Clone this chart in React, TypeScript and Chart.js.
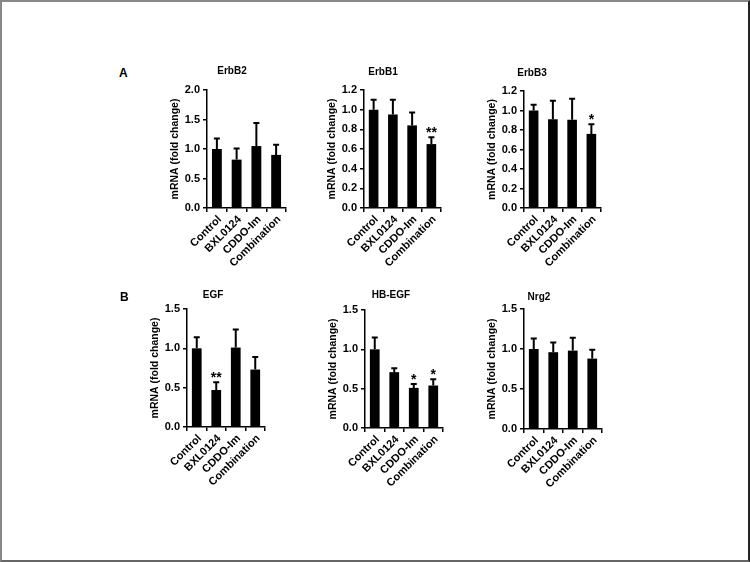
import React, { useEffect, useRef } from 'react';
import { Chart, registerables } from 'chart.js';

Chart.register(...registerables);

const categories = ['Control', 'BXL0124', 'CDDO-Im', 'Combination'];

const erbB2Mean = [1.0, 0.82, 1.05, 0.9];
const erbB2Err = [0.18, 0.19, 0.39, 0.17];
const erbB2Sig = ['', '', '', ''];

const erbB1Mean = [1.0, 0.95, 0.84, 0.65];
const erbB1Err = [0.1, 0.15, 0.13, 0.07];
const erbB1Sig = ['', '', '', '**'];

const erbB3Mean = [1.0, 0.91, 0.905, 0.76];
const erbB3Err = [0.06, 0.19, 0.215, 0.1];
const erbB3Sig = ['', '', '', '*'];

const egfMean = [1.0, 0.47, 1.01, 0.73];
const egfErr = [0.14, 0.1, 0.23, 0.16];
const egfSig = ['', '**', '', ''];

const hbegfMean = [1.0, 0.71, 0.51, 0.54];
const hbegfErr = [0.15, 0.05, 0.05, 0.08];
const hbegfSig = ['', '', '*', '*'];

const nrg2Mean = [1.0, 0.96, 0.98, 0.88];
const nrg2Err = [0.13, 0.12, 0.16, 0.11];
const nrg2Sig = ['', '', '', ''];

const yAxisTitle = 'mRNA (fold change)';

const FONT = '"Liberation Sans", Arial, Helvetica, sans-serif';

type PanelSpec = {
  title: string;
  mean: number[];
  err: number[];
  sig: string[];
  yMax: number;
  yStep: number;
  plotL: number;
  plotR: number;
  plotT: number;
  plotB: number;
  titleDx: number;
  titleDy: number;
};

const panels: PanelSpec[] = [
  { title: 'ErbB2', mean: erbB2Mean, err: erbB2Err, sig: erbB2Sig, yMax: 2.0, yStep: 0.5, plotL: 207, plotR: 286, plotT: 90, plotB: 208, titleDx: 25, titleDy: -19 },
  { title: 'ErbB1', mean: erbB1Mean, err: erbB1Err, sig: erbB1Sig, yMax: 1.2, yStep: 0.2, plotL: 364, plotR: 441, plotT: 90, plotB: 208, titleDx: 19, titleDy: -18 },
  { title: 'ErbB3', mean: erbB3Mean, err: erbB3Err, sig: erbB3Sig, yMax: 1.2, yStep: 0.2, plotL: 524, plotR: 601, plotT: 91, plotB: 208, titleDx: 8, titleDy: -18 },
  { title: 'EGF', mean: egfMean, err: egfErr, sig: egfSig, yMax: 1.5, yStep: 0.5, plotL: 187, plotR: 265, plotT: 309, plotB: 427, titleDx: 26, titleDy: -14 },
  { title: 'HB-EGF', mean: hbegfMean, err: hbegfErr, sig: hbegfSig, yMax: 1.5, yStep: 0.5, plotL: 365, plotR: 443, plotT: 310, plotB: 428, titleDx: 26, titleDy: -15 },
  { title: 'Nrg2', mean: nrg2Mean, err: nrg2Err, sig: nrg2Sig, yMax: 1.5, yStep: 0.5, plotL: 524, plotR: 602, plotT: 309, plotB: 429, titleDx: 15, titleDy: -12 },
];

const PAD_L = 5;
const Y_W = 45;
const PAD_T = 30;
const X_H = 72;
const PAD_R = 14;

function Panel({ p }: { p: PanelSpec }) {
  const ref = useRef<HTMLCanvasElement>(null);
  const left = p.plotL - Y_W - PAD_L;
  const top = p.plotT - PAD_T;
  const width = p.plotR + PAD_R - left;
  const height = p.plotB + X_H - top;

  useEffect(() => {
    if (!ref.current) return;
    const errorPlugin = {
      id: 'errAndTitle',
      afterDatasetsDraw(chart: any) {
        const ctx = chart.ctx;
        const meta = chart.getDatasetMeta(0);
        const ys = chart.scales.y;
        ctx.save();
        ctx.strokeStyle = '#000';
        ctx.fillStyle = '#000';
        ctx.lineWidth = 2;
        meta.data.forEach((bar: any, i: number) => {
          const x = bar.x;
          const yTop = ys.getPixelForValue(p.mean[i] + p.err[i]);
          ctx.beginPath();
          ctx.moveTo(x, bar.y);
          ctx.lineTo(x, yTop);
          ctx.moveTo(x - 3, yTop);
          ctx.lineTo(x + 3, yTop);
          ctx.stroke();
          if (p.sig[i]) {
            ctx.font = `bold 14px ${FONT}`;
            ctx.textAlign = 'center';
            ctx.textBaseline = 'alphabetic';
            ctx.fillText(p.sig[i], x, yTop);
          }
        });
        ctx.font = `bold 10px ${FONT}`;
        ctx.textAlign = 'center';
        ctx.textBaseline = 'middle';
        ctx.fillText(p.title, chart.chartArea.left + p.titleDx, chart.chartArea.top + p.titleDy);
        ctx.restore();
      },
    };

    const chart = new Chart(ref.current, {
      type: 'bar',
      data: {
        labels: categories,
        datasets: [
          {
            data: p.mean,
            backgroundColor: '#000',
            borderWidth: 0,
            barPercentage: 0.5,
            categoryPercentage: 1,
          },
        ],
      },
      options: {
        responsive: false,
        animation: false,
        events: [],
        layout: { padding: { left: PAD_L, top: PAD_T, right: PAD_R, bottom: 0 } },
        plugins: { legend: { display: false }, tooltip: { enabled: false } },
        scales: {
          x: {
            grid: { display: true, drawOnChartArea: false, offset: true, tickLength: 4, color: '#000', lineWidth: 1.5 },
            border: { display: true, color: '#000', width: 1.5 },
            ticks: {
              color: '#000',
              font: { family: FONT, size: 11, weight: 'bold' },
              minRotation: 45,
              maxRotation: 45,
              autoSkip: false,
              padding: 1,
              labelOffset: 3,
            },
            afterFit: (s: any) => {
              s.height = X_H;
            },
          },
          y: {
            min: 0,
            max: p.yMax,
            grid: { display: true, drawOnChartArea: false, tickLength: 4, color: '#000', lineWidth: 1.5 },
            border: { display: true, color: '#000', width: 1.5 },
            ticks: {
              stepSize: p.yStep,
              color: '#000',
              padding: 3,
              font: { family: FONT, size: 11, weight: 'bold' },
              callback: (v: any) => Number(v).toFixed(1),
            },
            title: {
              display: true,
              text: yAxisTitle,
              color: '#000',
              font: { family: FONT, size: 10.5, weight: 'bold' },
              padding: { top: 7, bottom: 0 },
            },
            afterFit: (s: any) => {
              s.width = Y_W;
            },
          },
        },
      } as any,
      plugins: [errorPlugin],
    });
    return () => chart.destroy();
  }, []);

  return (
    <canvas
      ref={ref}
      width={width}
      height={height}
      style={{ position: 'absolute', left, top, width, height }}
    />
  );
}

export default function App() {
  return (
    <div
      style={{
        position: 'absolute',
        left: 0,
        top: 0,
        width: 750,
        height: 562,
        boxSizing: 'border-box',
        background: '#fff',
        borderTop: '2px solid #888',
        borderLeft: '2px solid #888',
        borderRight: '2px solid #222',
        borderBottom: '2px solid #666',
        fontFamily: FONT,
        overflow: 'hidden',
      }}
    >
      <div style={{ position: 'absolute', left: 0, top: 0, width: 750, height: 562, marginLeft: -2, marginTop: -2 }}>
        {panels.map((p) => (
          <Panel key={p.title} p={p} />
        ))}
        <div style={{ position: 'absolute', left: 119, top: 66, fontSize: 12, fontWeight: 'bold', lineHeight: '14px', color: '#000' }}>A</div>
        <div style={{ position: 'absolute', left: 120, top: 290, fontSize: 12, fontWeight: 'bold', lineHeight: '14px', color: '#000' }}>B</div>
      </div>
    </div>
  );
}
